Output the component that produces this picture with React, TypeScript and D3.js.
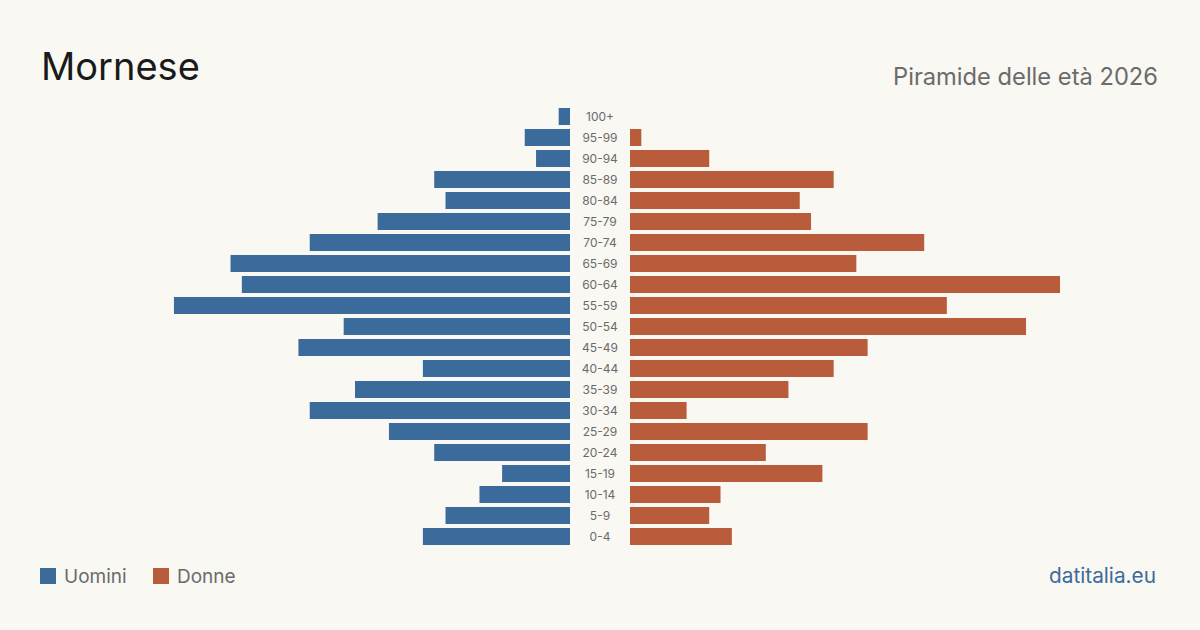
import React from "react";
import * as d3 from "d3";

const ageGroups = [
  "100+", "95-99", "90-94", "85-89", "80-84", "75-79", "70-74", "65-69",
  "60-64", "55-59", "50-54", "45-49", "40-44", "35-39", "30-34", "25-29",
  "20-24", "15-19", "10-14", "5-9", "0-4",
];
const men = [1, 4, 3, 12, 11, 17, 23, 30, 29, 35, 20, 24, 13, 19, 23, 16, 12, 6, 8, 11, 13];
const women = [0, 1, 7, 18, 15, 16, 26, 20, 38, 28, 35, 21, 18, 14, 5, 21, 12, 17, 8, 7, 9];

const W = 1200;
const H = 630;
const BLUE = "#3b6b9b";
const ORANGE = "#b95c3c";
const FONT = "Inter, 'Noto Sans', sans-serif";

export default function App() {
  const center = 600;
  const gap = 30;
  const half = 430;
  const max = d3.max([...men, ...women]) as number;

  const x = d3.scaleLinear().domain([0, max]).range([0, half]);
  const y = d3
    .scaleBand<string>()
    .domain(ageGroups)
    .range([106, 547])
    .paddingInner(0.19)
    .paddingOuter(0.095);

  return (
    <svg width={W} height={H} style={{ display: "block", position: "fixed", left: 0, top: 0 }} fontFamily={FONT}>
      <rect width={W} height={H} fill="#f9f8f3" />
      <text x={41} y={80} fontSize={38} fill="#1a1a1a">Mornese</text>
      <text x={1158} y={85} fontSize={23.7} fill="#6b6b6b" textAnchor="end">Piramide delle età 2026</text>

      {ageGroups.map((g, i) => (
        <g key={g}>
          <rect
            x={center - gap - x(men[i])}
            y={y(g)}
            width={x(men[i])}
            height={y.bandwidth()}
            fill={BLUE}
          />
          <rect
            x={center + gap}
            y={y(g)}
            width={x(women[i])}
            height={y.bandwidth()}
            fill={ORANGE}
          />
          <text
            x={center}
            y={(y(g) as number) + y.bandwidth() / 2}
            dy="0.35em"
            fontSize={12}
            fill="#6b6b6b"
            textAnchor="middle"
          >
            {g}
          </text>
        </g>
      ))}

      <rect x={40} y={568} width={16} height={16} fill={BLUE} />
      <text x={64} y={583} fontSize={19} fill="#6b6b6b">Uomini</text>
      <rect x={153} y={568} width={16} height={16} fill={ORANGE} />
      <text x={177} y={583} fontSize={19} fill="#6b6b6b">Donne</text>

      <text x={1156} y={583} fontSize={20.8} fill={BLUE} textAnchor="end">datitalia.eu</text>
    </svg>
  );
}
